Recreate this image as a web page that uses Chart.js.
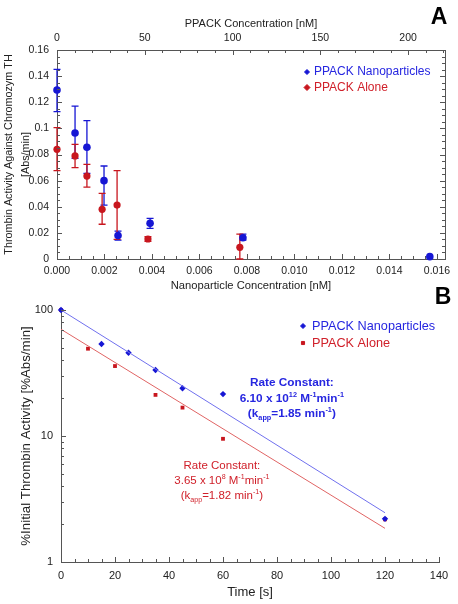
<!DOCTYPE html>
<html>
<head>
<meta charset="utf-8">
<title>PPACK thrombin inhibition</title>
<script src="https://cdn.jsdelivr.net/npm/chart.js@4.4.1/dist/chart.umd.min.js"></script>
<style>
  html, body { margin: 0; padding: 0; background: #fff; }
  #wrap { position: relative; width: 458px; height: 604px; overflow: hidden; background: #fff; }
  #chartA { position: absolute; left: 0; top: 0; }
  #chartB { position: absolute; left: 0; top: 280px; }
</style>
</head>
<body>
<div id="wrap">
  <canvas id="chartA" width="458" height="300"></canvas>
  <canvas id="chartB" width="458" height="324"></canvas>
</div>
<script>
// ---- Panel A: thrombin activity vs concentration ----
const NANO_X = [0, 0.00076, 0.00126, 0.00198, 0.00257, 0.00392, 0.00783, 0.0157];
const NANO_Y = [0.1294, 0.0965, 0.0855, 0.060, 0.0179, 0.0273, 0.0163, 0.0018];
const NANO_ERR_UP = [0.0158, 0.0205, 0.0205, 0.0112, 0.0035, 0.0038, 0.0028, 0];
const NANO_ERR_DN = [0.0166, 0.0195, 0.0199, 0.0187, 0.0034, 0.0038, 0.0018, 0];

const ALONE_X = [0, 0.00076, 0.00126, 0.0019, 0.00253, 0.00383, 0.0077];
const ALONE_Y = [0.084, 0.0789, 0.0635, 0.038, 0.0413, 0.0153, 0.0089];
const ALONE_ERR_UP = [0.0165, 0.0089, 0.009, 0.0123, 0.0263, 0.0018, 0.0102];
const ALONE_ERR_DN = [0.0164, 0.0089, 0.0084, 0.0114, 0.0262, 0.0018, 0.0089];

const A_X_TICKS = [0, 0.002, 0.004, 0.006, 0.008, 0.010, 0.012, 0.014, 0.016];
const A_TOP_TICKS = [0, 50, 100, 150, 200];
const A_Y_TICKS = [0, 0.02, 0.04, 0.06, 0.08, 0.1, 0.12, 0.14, 0.16];

// ---- Panel B: % initial activity vs time (log) ----
const NANO_T = [0, 15, 25, 35, 45, 60, 120];
const NANO_PCT = [100, 53.7, 45.8, 33.4, 23.9, 21.5, 2.2];
const ALONE_T = [0, 10, 20, 35, 45, 60, 120];
const ALONE_PCT = [100, 49.3, 35.9, 21.2, 16.8, 9.5, 2.18];

const FIT_T = [0, 120];
const FIT_NANO = [100, 2.46];
const FIT_ALONE = [70.3, 1.85];

const B_X_TICKS = [0, 20, 40, 60, 80, 100, 120, 140];
const B_Y_TICKS = [1, 10, 100];

const BLUE = '#1616d4';
const RED = '#c8161e';
const BLUE_TEXT = '#2626e0';
const RED_TEXT = '#d0202a';
const BLUE_LINE = '#7070ee';
const RED_LINE = '#e06464';
const AXIS_COLOR = '#555';
const TEXT = '#222';
const FONT = "'Liberation Sans', Arial, Helvetica, sans-serif";

Chart.defaults.font.family = FONT;
Chart.defaults.color = TEXT;

const pts = (xs, ys) => xs.map((x, i) => ({ x, y: ys[i] }));

/**
 * Vertical error bars, read from dataset.errUp / dataset.errDn.
 */
const errorBars = {
    id: 'errorBars',
    beforeDatasetsDraw(chart) {
        const { ctx } = chart;
        const xs = chart.scales.x, ys = chart.scales.y;
        chart.data.datasets.forEach(ds => {
            if (!ds.errUp) return;
            ctx.save();
            ctx.strokeStyle = ds.borderColor;
            ctx.lineWidth = 1.3;
            ds.data.forEach((p, i) => {
                const up = ds.errUp[i], dn = ds.errDn[i];
                if (!up && !dn) return;
                const x = xs.getPixelForValue(p.x);
                const y1 = ys.getPixelForValue(p.y + up);
                const y2 = ys.getPixelForValue(Math.max(p.y - dn, 0));
                ctx.beginPath();
                ctx.moveTo(x, y1); ctx.lineTo(x, y2);
                ctx.moveTo(x - 3.5, y1); ctx.lineTo(x + 3.5, y1);
                ctx.moveTo(x - 3.5, y2); ctx.lineTo(x + 3.5, y2);
                ctx.stroke();
            });
            ctx.restore();
        });
    }
};

function tickValues(scale, t) {
    const out = [];
    if (t.log) {
        for (let d = Math.floor(Math.log10(scale.min)); d <= Math.ceil(Math.log10(scale.max)); d++) {
            for (let k = 1; k <= 9; k++) {
                const v = k * Math.pow(10, d);
                if (v >= scale.min - 1e-9 && v <= scale.max + 1e-9) out.push([v, k === 1]);
            }
        }
        return out;
    }
    const n = Math.floor((scale.max - scale.min) / t.step + 1e-6);
    for (let i = 0; i <= n; i++) {
        const v = scale.min + i * t.step;
        const r = v / t.major;
        out.push([v, Math.abs(r - Math.round(r)) < 1e-6]);
    }
    return out;
}

// rich text with sub / superscripts, centred on cx
function drawRich(ctx, segs, cx, y, size, bold) {
    const w = bold ? 'bold ' : '';
    const fontFor = k => (k ? w + (size * 0.62).toFixed(1) + 'px ' : w + size + 'px ') + FONT;
    let total = 0;
    segs.forEach(([txt, k]) => { ctx.font = fontFor(k); total += ctx.measureText(txt).width; });
    let x = cx - total / 2;
    ctx.textAlign = 'left';
    ctx.textBaseline = 'alphabetic';
    segs.forEach(([txt, k]) => {
        ctx.font = fontFor(k);
        const dy = k === 'sup' ? -size * 0.4 : k === 'sub' ? size * 0.25 : 0;
        ctx.fillText(txt, x, y + size * 0.35 + dy);
        x += ctx.measureText(txt).width;
    });
}

/**
 * Inward tick marks, frame, legend, notes and panel letter.
 */
const decor = {
    id: 'decor',
    afterDraw(chart, args, o) {
        const ctx = chart.ctx, area = chart.chartArea;
        ctx.save();
        ctx.strokeStyle = AXIS_COLOR;
        ctx.lineWidth = 1;
        if (o.frameRight) {
            ctx.beginPath();
            ctx.moveTo(area.right + 0.5, area.top);
            ctx.lineTo(area.right + 0.5, area.bottom);
            ctx.stroke();
        }
        (o.ticks || []).forEach(t => {
            const s = chart.scales[t.scale];
            tickValues(s, t).forEach(([v, major]) => {
                const len = major ? 5 : 3;
                const p = Math.round(s.getPixelForValue(v)) + 0.5;
                t.edges.forEach(edge => {
                    ctx.beginPath();
                    if (edge === 'bottom') { ctx.moveTo(p, area.bottom); ctx.lineTo(p, area.bottom - len); }
                    if (edge === 'top') { ctx.moveTo(p, area.top); ctx.lineTo(p, area.top + len); }
                    if (edge === 'left') { ctx.moveTo(area.left, p); ctx.lineTo(area.left + len, p); }
                    if (edge === 'right') { ctx.moveTo(area.right, p); ctx.lineTo(area.right - len, p); }
                    ctx.stroke();
                });
            });
        });

        if (o.legend) {
            const L = o.legend;
            L.items.forEach((it, i) => {
                const y = L.y + i * L.gap;
                ctx.fillStyle = it.color;
                ctx.strokeStyle = it.color;
                Chart.helpers.drawPoint(ctx, { pointStyle: it.style, radius: it.r, rotation: 0, borderWidth: 1 }, L.x, y);
                ctx.font = L.size + 'px ' + FONT;
                ctx.fillStyle = it.textColor;
                ctx.textAlign = 'left';
                ctx.textBaseline = 'middle';
                ctx.fillText(it.text, L.x + L.textOffset, y);
            });
        }

        (o.notes || []).forEach(n => {
            const cx = chart.scales.x.getPixelForValue(n.x);
            const cy = chart.scales.y.getPixelForValue(n.y);
            ctx.fillStyle = n.color;
            n.lines.forEach((segs, i) => drawRich(ctx, segs, cx, cy + i * n.gap, n.size, n.bold));
        });

        if (o.letter) {
            ctx.fillStyle = '#000';
            ctx.font = 'bold 23px ' + FONT;
            ctx.textAlign = 'center';
            ctx.textBaseline = 'middle';
            ctx.fillText(o.letter.text, o.letter.x, o.letter.y);
        }
        ctx.restore();
    }
};

function axisBase(extra) {
    return {
        grid: { display: false, drawTicks: false },
        border: { display: true, color: AXIS_COLOR, width: 1 },
        ...extra
    };
}

// ---- Chart A ----
new Chart(document.getElementById('chartA'), {
    type: 'scatter',
    data: {
        datasets: [
            {
                label: 'PPACK Nanoparticles',
                data: pts(NANO_X, NANO_Y),
                errUp: NANO_ERR_UP, errDn: NANO_ERR_DN,
                backgroundColor: BLUE, borderColor: BLUE,
                pointStyle: 'circle', pointRadius: 3.8, borderWidth: 0, clip: false
            },
            {
                label: 'PPACK Alone',
                data: pts(ALONE_X, ALONE_Y),
                errUp: ALONE_ERR_UP, errDn: ALONE_ERR_DN,
                backgroundColor: RED, borderColor: RED,
                pointStyle: 'circle', pointRadius: 3.6, borderWidth: 0, clip: false
            }
        ]
    },
    options: {
        responsive: false,
        animation: false,
        events: [],
        layout: { padding: { left: 0, right: 13, top: 0, bottom: 0 } },
        plugins: {
            legend: { display: false },
            tooltip: { enabled: false },
            decor: {
                frameRight: true,
                ticks: [
                    { scale: 'x', step: 0.0005, major: 0.002, edges: ['bottom'] },
                    { scale: 'x2', step: 10, major: 50, edges: ['top'] },
                    { scale: 'y', step: 0.005, major: 0.02, edges: ['left', 'right'] }
                ],
                legend: {
                    x: 307, y: 72, gap: 15.5, size: 12, textOffset: 7,
                    items: [
                        { text: 'PPACK Nanoparticles', color: BLUE, textColor: BLUE_TEXT, style: 'rectRot', r: 2.5 },
                        { text: 'PPACK Alone', color: RED, textColor: RED_TEXT, style: 'rectRot', r: 3 }
                    ]
                },
                letter: { text: 'A', x: 439, y: 18 }
            }
        },
        scales: {
            x: axisBase({
                type: 'linear', position: 'bottom', min: 0, max: 0.01634,
                afterBuildTicks: s => { s.ticks = A_X_TICKS.map(v => ({ value: v })); },
                afterFit: s => { s.height = 41; },
                ticks: { padding: 6, font: { size: 10.5 }, color: TEXT, maxRotation: 0, autoSkip: false, callback: v => v.toFixed(3) },
                title: { display: true, text: 'Nanoparticle Concentration [nM]', font: { size: 11.2 }, color: TEXT, padding: { top: 0, bottom: 7 } }
            }),
            x2: axisBase({
                type: 'linear', position: 'top', min: 0, max: 221,
                afterBuildTicks: s => { s.ticks = A_TOP_TICKS.map(v => ({ value: v })); },
                afterFit: s => { s.height = 50; },
                ticks: { padding: 6, font: { size: 10.5 }, color: TEXT, maxRotation: 0, autoSkip: false },
                title: { display: true, text: 'PPACK Concentration [nM]', font: { size: 11 }, color: TEXT, padding: { top: 17.5, bottom: 0 } }
            }),
            y: axisBase({
                type: 'linear', position: 'left', min: 0, max: 0.16,
                afterBuildTicks: s => { s.ticks = A_Y_TICKS.map(v => ({ value: v })); },
                afterFit: s => { s.width = 57; },
                ticks: { padding: 8, font: { size: 10.5 }, color: TEXT, callback: v => String(+v.toFixed(2)) },
                title: {
                    display: true,
                    text: ['Thrombin Activity Against Chromozym TH', '[Abs/min]'],
                    font: { size: 10.8, lineHeight: 1.55 }, color: TEXT,
                    padding: { top: 1, bottom: 0 }
                }
            })
        }
    },
    plugins: [errorBars, decor]
});

// ---- Chart B ----
new Chart(document.getElementById('chartB'), {
    type: 'scatter',
    data: {
        datasets: [
            {
                label: 'Fit Nanoparticles', data: pts(FIT_T, FIT_NANO), showLine: true,
                borderColor: BLUE_LINE, borderWidth: 1, pointRadius: 0, clip: false
            },
            {
                label: 'Fit Alone', data: pts(FIT_T, FIT_ALONE), showLine: true,
                borderColor: RED_LINE, borderWidth: 1, pointRadius: 0, clip: false
            },
            {
                label: 'PPACK Nanoparticles', data: pts(NANO_T, NANO_PCT),
                backgroundColor: BLUE, borderColor: BLUE,
                pointStyle: 'rectRot', pointRadius: 3.2, borderWidth: 0, clip: false
            },
            {
                label: 'PPACK Alone', data: pts(ALONE_T, ALONE_PCT),
                backgroundColor: RED, borderColor: RED,
                pointStyle: 'rect', pointRadius: 2.7, borderWidth: 0, clip: false
            }
        ]
    },
    options: {
        responsive: false,
        animation: false,
        events: [],
        layout: { padding: { left: 0, right: 19, top: 30, bottom: 0 } },
        plugins: {
            legend: { display: false },
            tooltip: { enabled: false },
            decor: {
                ticks: [
                    { scale: 'x', step: 5, major: 20, edges: ['bottom'] },
                    { scale: 'y', log: true, edges: ['left'] }
                ],
                legend: {
                    x: 303, y: 46, gap: 17, size: 12.7, textOffset: 9,
                    items: [
                        { text: 'PPACK Nanoparticles', color: BLUE, textColor: BLUE_TEXT, style: 'rectRot', r: 2.5 },
                        { text: 'PPACK Alone', color: RED, textColor: RED_TEXT, style: 'rect', r: 2.2 }
                    ]
                },
                notes: [
                    {
                        x: 85.5, y: 26.8, gap: 15.5, size: 11.8, bold: true, color: BLUE_TEXT,
                        lines: [
                            [['Rate Constant:', '']],
                            [['6.10 x 10', ''], ['12', 'sup'], [' M', ''], ['-1', 'sup'], ['min', ''], ['-1', 'sup']],
                            [['(k', ''], ['app', 'sub'], ['=1.85 min', ''], ['-1', 'sup'], [')', '']]
                        ]
                    },
                    {
                        x: 59.6, y: 5.9, gap: 15, size: 11.5, bold: false, color: RED_TEXT,
                        lines: [
                            [['Rate Constant:', '']],
                            [['3.65 x 10', ''], ['8', 'sup'], [' M', ''], ['-1', 'sup'], ['min', ''], ['-1', 'sup']],
                            [['(k', ''], ['app', 'sub'], ['=1.82 min', ''], ['-1', 'sup'], [')', '']]
                        ]
                    }
                ],
                letter: { text: 'B', x: 443, y: 18 }
            }
        },
        scales: {
            x: axisBase({
                type: 'linear', position: 'bottom', min: 0, max: 140,
                afterBuildTicks: s => { s.ticks = B_X_TICKS.map(v => ({ value: v })); },
                afterFit: s => { s.height = 42; },
                ticks: { padding: 7, font: { size: 11 }, color: TEXT, maxRotation: 0, autoSkip: false },
                title: { display: true, text: 'Time [s]', font: { size: 13 }, color: TEXT, padding: { top: 0, bottom: 4 } }
            }),
            y: axisBase({
                type: 'logarithmic', position: 'left', min: 1, max: 100,
                afterBuildTicks: s => { s.ticks = B_Y_TICKS.map(v => ({ value: v })); },
                afterFit: s => { s.width = 61; },
                ticks: { padding: 8, font: { size: 11 }, color: TEXT, callback: v => String(v) },
                title: {
                    display: true, text: '%Initial Thrombin Activity [%Abs/min]',
                    font: { size: 13.3 }, color: TEXT, padding: { top: 18, bottom: 0 }
                }
            })
        }
    },
    plugins: [decor]
});
</script>
</body>
</html>
